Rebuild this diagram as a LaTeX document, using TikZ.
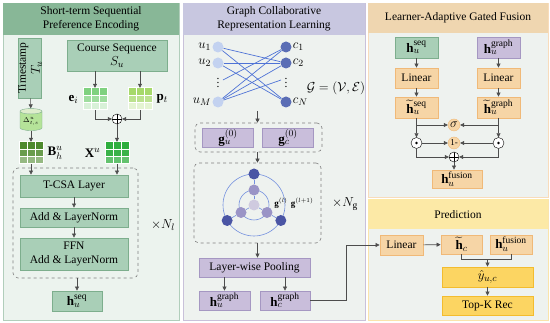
\RequirePackage{fix-cm}
\documentclass[tikz,border=0pt]{standalone}
\usepackage{fontspec}
\setmainfont{Liberation Serif}
\usepackage{amsmath,amssymb}
\DeclareMathSizes{11.5}{13}{9.5}{7.5}
\usepackage{tikz}
\usetikzlibrary{arrows.meta,calc,positioning,shapes.geometric}

\definecolor{grnhead}{HTML}{88B797}
\definecolor{grnbody}{HTML}{ECF3EE}
\definecolor{grnbox}{HTML}{A9CFB7}
\definecolor{grnline}{HTML}{7DAE8D}
\definecolor{purhead}{HTML}{C8C7E0}
\definecolor{purbox}{HTML}{C9BEDB}
\definecolor{purline}{HTML}{A597C2}
\definecolor{tanhead}{HTML}{EFD6B0}
\definecolor{tanbox}{HTML}{F6D5A6}
\definecolor{tanline}{HTML}{F0B978}
\definecolor{yelhead}{HTML}{FCE9A6}
\definecolor{yelbox}{HTML}{FCD562}
\definecolor{yelline}{HTML}{F3BC2E}
\definecolor{bodyg}{HTML}{EEF2EF}
\definecolor{edgeb}{HTML}{4F73D6}
\definecolor{arrg}{HTML}{4D4D4D}
\definecolor{bcol}{HTML}{4E8A2E}
\definecolor{ecol}{HTML}{7FD17F}
\definecolor{pcol}{HTML}{A6D96A}
\definecolor{xcol}{HTML}{2FAE3E}
\definecolor{ucol}{HTML}{C3D2F0}
\definecolor{ccol}{HTML}{5A6DB5}
\definecolor{lay0}{HTML}{CFCADF}
\definecolor{lay1}{HTML}{9A94C6}
\definecolor{lay2}{HTML}{4A55A4}

\begin{document}
\begin{tikzpicture}[x=1pt,y=-1pt,font=\fontsize{11.5}{14}\selectfont,
    box/.style={draw,line width=0.8pt,inner sep=1pt,align=center},
    gbox/.style={box,fill=grnbox,draw=grnline},
    pbox/.style={box,fill=purbox,draw=purline},
    tbox/.style={box,fill=tanbox,draw=tanline},
    ybox/.style={box,fill=yelbox,draw=yelline},
    dbox/.style={draw=gray,dashed,rounded corners=5pt,line width=0.6pt},
    arr/.style={-{Triangle[length=4pt,width=4pt]},draw=arrg,line width=0.6pt},
    ln/.style={draw=arrg,line width=0.6pt},
    grid/.style={inner sep=0pt,minimum width=24pt,minimum height=22pt},
    oplusn/.style={circle,draw,fill=white,inner sep=0pt,minimum size=10pt,
        path picture={\draw (path picture bounding box.north) -- (path picture bounding box.south)
            (path picture bounding box.west) -- (path picture bounding box.east);}},
    odotn/.style={circle,draw,fill=white,inner sep=0pt,minimum size=11pt,
        path picture={\fill[black] (path picture bounding box.center) circle (1.3pt);}},
    gate/.style={circle,draw=tanline,fill=tanbox,inner sep=0pt,minimum size=12pt},
    unode/.style={circle,fill=ucol,inner sep=0pt,minimum size=11pt},
    cnode/.style={circle,fill=ccol,inner sep=0pt,minimum size=11pt},
    edge/.style={draw=edgeb,line width=0.7pt}]
\useasboundingbox (0,0) rectangle (550,323);

% panels
\draw[grnline!60,fill=grnbody] (3,3) rectangle (179,320);
\fill[grnhead] (3,3) rectangle (179,35);
\draw[purline!60,fill=bodyg] (183,3) rectangle (365,320);
\fill[purhead] (183,3) rectangle (365,35);
\draw[tanline!50,fill=bodyg] (368,3) rectangle (548,197);
\fill[tanhead] (368,3) rectangle (548,33);
\draw[yelline!40,fill=bodyg] (368,199) rectangle (548,320);
\fill[yelhead] (368,199) rectangle (548,229);
\node[align=center] (hdseq) at (91,19) {Short-term Sequential\\Preference Encoding};
\node[align=center] (hdgraph) at (274,19) {Graph Collaborative\\Representation Learning};
\node (hdfuse) at (458,18) {Learner-Adaptive Gated Fusion};
\node (hdpred) at (458,215) {Prediction};

% short-term sequential part
\node[gbox,rotate=90,minimum width=60pt,minimum height=20pt,inner sep=0pt] (ts) at (30,68) {Timestamp\\$T_u$};
\node[gbox,minimum width=100pt,minimum height=31pt,inner sep=0pt] (cs) at (117,55.5) {Course Sequence\\$S_u$};
\node[cylinder,shape border rotate=90,aspect=0.35,draw=grnline,cylinder uses custom fill,
    cylinder body fill=green!45!olive!40!white,cylinder end fill=green!30!olive!20!white,
    minimum width=22pt,minimum height=22pt,inner sep=0pt] (dt) at (31,121) {\scriptsize$\Delta^{u}_{t,s}$};
\node[grid] (bh) at (31,153) {};
\node[grid] (ei) at (95,99) {};
\node[grid] (pt) at (140,99) {};
\node[grid] (xu) at (117,153) {};
\foreach \g/\col/\fa/\fb in {bh/bcol/85/60,ei/ecol/75/30,pt/pcol/75/30,xu/xcol/95/75}
  \foreach \r/\o in {0/100,1/\fa,2/\fb}
    \foreach \c in {0,1,2}
      \fill[\col!\o,draw=white,line width=0.6pt] ($(\g.north west)+(8*\c,7.33*\r)$) rectangle ++(8,7.33);
\node[left=1pt of ei] (eilab) {$\mathbf{e}_i$};
\node[right=1pt of pt] (ptlab) {$\mathbf{p}_t$};
\node[left=1pt of xu] (xulab) {$\mathbf{X}^u$};
\node[right=1pt of bh] (bhlab) {$\mathbf{B}^u_h$};
\node[oplusn] (opl) at (117,119) {};

\node[dbox,minimum width=125pt,minimum height=110pt] (lyr) at (75.5,223) {};
\node[gbox,minimum width=108pt,minimum height=22pt] (tcsa) at (74,186) {T-CSA Layer};
\node[gbox,minimum width=108pt,minimum height=19pt] (addln) at (74,217.5) {Add \& LayerNorm};
\node[gbox,minimum width=108pt,minimum height=32pt] (ffn) at (74,254) {FFN\\Add \& LayerNorm};
\node (nl) at (163,225) {$\times N_l$};
\node[gbox,minimum width=50pt,minimum height=20pt] (hseq) at (77,301) {$\mathbf{h}_u^{\mathrm{seq}}$};

\draw[arr] (ts) -- (dt);
\draw[arr] (dt) -- (bh);
\draw[arr] (ei.north |- cs.south) -- (ei);
\draw[arr] (pt.north |- cs.south) -- (pt);
\draw[arr] (ei.south) |- (opl);
\draw[arr] (pt.south) |- (opl);
\draw[arr] (opl) -- (xu);
\draw[arr] (bh) -- (bh |- tcsa.north);
\draw[arr] (xu) -- (xu |- tcsa.north);
\draw[arr] (tcsa) -- (addln);
\draw[arr] (addln) -- (ffn);
\draw[arr] (lyr.south -| hseq) -- (hseq);

% graph part
\foreach \n/\y in {1/47,2/63,M/102}
  \node[unode,label={[inner sep=1pt]left:$u_{\n}$}] (u\n) at (218,\y) {};
\foreach \n/\y in {1/47,2/63,N/102}
  \node[cnode,label={[inner sep=1pt]right:$c_{\n}$}] (c\n) at (286,\y) {};
\node (ud) at (218,80) {$\vdots$};
\node (cd) at (286,80) {$\vdots$};
\foreach \a/\b in {u1/c2,u1/cN,u2/c2,u2/cN,uM/c1,uM/c2}
  \draw[edge] (\a) -- (\b);
\draw[edge] (ud.east) -- (c1);
\draw[edge] (uM) -- (cd.west);
\node (geq) at (336,88) {$\mathcal{G}=(\mathcal{V},\mathcal{E})$};

\coordinate (gout) at (257.5,111);
\node[dbox,minimum width=127pt,minimum height=29pt] (emb) at (258.5,137.5) {};
\node[pbox,minimum width=51pt,minimum height=19pt] (gu0) at (228,137.5) {$\mathbf{g}_u^{(0)}$};
\node[pbox,minimum width=51pt,minimum height=19pt] (gc0) at (288,137.5) {$\mathbf{g}_c^{(0)}$};
\node[dbox,minimum width=127pt,minimum height=80pt] (prop) at (257.5,203) {};

\coordinate (gc) at (254,205);
\draw[edgeb!80,line width=0.6pt] (gc) circle (31pt) (gc) circle (15pt);
\node[circle,fill=lay0,inner sep=0pt,minimum size=11pt] (g0) at (gc) {};
\foreach \a [count=\i] in {90,210,330} {
  \node[circle,fill=lay1,inner sep=0pt,minimum size=11pt] (m\i) at ($(gc)+(\a:15pt)$) {};
  \node[circle,fill=lay2,inner sep=0pt,minimum size=11pt] (o\i) at ($(gc)+(\a:31pt)$) {};
  \draw[edgeb!80,line width=0.6pt] (g0) -- (m\i) (m\i) -- (o\i);
}
\node[font=\small,inner sep=0pt] (gl) at (281,203) {$\mathbf{g}^{(l)}$};
\node[font=\small,inner sep=0pt,right=3pt of gl] (gl1) {$\mathbf{g}^{(l+1)}$};
\node (ng) at (345,204) {$\times N_{\mathrm{g}}$};

\node[pbox,minimum width=111pt,minimum height=19pt] (pool) at (254.5,267.5) {Layer-wise Pooling};
\node[pbox,minimum width=51pt,minimum height=19pt] (hug) at (224.5,300.5) {$\mathbf{h}_u^{\mathrm{graph}}$};
\node[pbox,minimum width=50pt,minimum height=19pt] (hcg) at (285,300.5) {$\mathbf{h}_c^{\mathrm{graph}}$};

\draw[arr] (gout) -- (emb.north -| gout);
\draw[arr] (emb.south -| gout) -- (prop.north -| gout);
\draw[arr] (prop.south -| gout) -- (pool.north -| gout);
\draw[arr] (pool.south -| hug) -- (hug);
\draw[arr] (pool.south -| hcg) -- (hcg);

% gated fusion
\node[gbox,minimum width=43pt,minimum height=21pt] (hs) at (416.5,47.5) {$\mathbf{h}_u^{\mathrm{seq}}$};
\node[pbox,minimum width=43pt,minimum height=21pt] (hg) at (498.5,47.5) {$\mathbf{h}_u^{\mathrm{graph}}$};
\node[tbox,minimum width=43pt,minimum height=20pt] (lin1) at (416.5,78) {Linear};
\node[tbox,minimum width=43pt,minimum height=20pt] (lin2) at (498.5,78) {Linear};
\node[tbox,minimum width=43pt,minimum height=21pt] (ths) at (416.5,107.5) {$\widetilde{\mathbf{h}}_u^{\mathrm{seq}}$};
\node[tbox,minimum width=43pt,minimum height=21pt] (thg) at (498.5,107.5) {$\widetilde{\mathbf{h}}_u^{\mathrm{graph}}$};
\node[gate] (sig) at (454,125) {$\sigma$};
\node[gate,font=\small] (one) at (454,143) {1-};
\node[odotn] (odl) at (416.5,143) {};
\node[odotn] (odr) at (498.5,143) {};
\node[oplusn] (opf) at (454,157) {};
\node[tbox,minimum width=50pt,minimum height=18pt] (hf) at (457,179) {$\mathbf{h}_u^{\mathrm{fusion}}$};

\draw[arr] (hs) -- (lin1);
\draw[arr] (lin1) -- (ths);
\draw[arr] (hg) -- (lin2);
\draw[arr] (lin2) -- (thg);
\draw[arr] (ths) -- (odl);
\draw[arr] (thg) -- (odr);
\draw[arr] (ths.south |- sig) -- (sig);
\draw[arr] (thg.south |- sig) -- (sig);
\draw[arr] (odl) -- (one);
\draw[arr] (odr) -- (one);
\draw[arr] (odl) |- (opf);
\draw[arr] (odr) |- (opf);
\draw[arr] (opf) -- (opf |- hf.north);

% prediction
\node[tbox,minimum width=43pt,minimum height=20pt] (linp) at (401.5,245) {Linear};
\node[tbox,minimum width=41pt,minimum height=19pt] (hc) at (461.5,244.5) {$\widetilde{\mathbf{h}}_c$};
\node[tbox,minimum width=42pt,minimum height=19pt] (hfu) at (511,244.5) {$\mathbf{h}_u^{\mathrm{fusion}}$};
\node[ybox,minimum width=91pt,minimum height=20pt] (yh) at (487.5,277) {$\hat{y}_{u,c}$};
\node[ybox,minimum width=91pt,minimum height=19pt] (topk) at (487.5,305.5) {Top-K Rec};
\coordinate (jn) at ($(yh.north)+(0,-7)$);

\draw[arr] (hcg.east) -- ++(36,0) |- (linp.west);
\draw[arr] (linp) -- (hc);
\draw[ln] (hc.south) |- (jn) -| (hfu.south);
\draw[arr] (jn) -- (yh);
\draw[arr] (yh) -- (topk);
\end{tikzpicture}
\end{document}
